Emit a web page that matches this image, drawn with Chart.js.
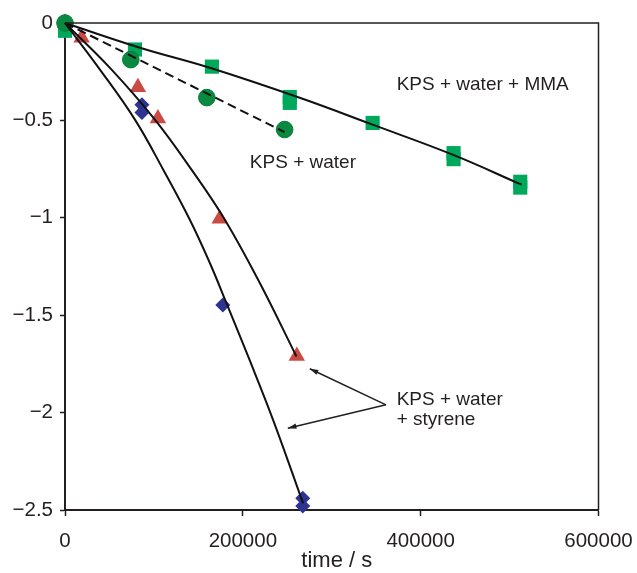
<!DOCTYPE html>
<html>
<head>
<meta charset="utf-8">
<script src="https://cdn.jsdelivr.net/npm/chart.js@4"></script>
<style>
  html, body { margin: 0; padding: 0; background: #fff; }
  #wrap { width: 637px; height: 573px; }
</style>
</head>
<body>
<div id="wrap"><canvas id="chart" width="637" height="573"></canvas></div>
<script>
// 測定値 (time / s, ln 値)
const mmaTime = [0, 78650, 165200, 252800, 252800, 346000, 437000, 437000, 512000, 512000];
const mmaVal = [-0.04, -0.136, -0.224, -0.38, -0.41, -0.513, -0.668, -0.699, -0.815, -0.845];

const waterTime = [0, 74000, 159500, 247000];
const waterVal = [0, -0.188, -0.383, -0.547];

const triTime = [0, 18700, 82000, 104500, 174000, 260700];
const triVal = [0, -0.076, -0.33, -0.49, -1.005, -1.71];

const diaTime = [86500, 86500, 177500, 267400, 267400];
const diaVal = [-0.42, -0.46, -1.447, -2.44, -2.48];

// フィット曲線
const mmaFitTime = [0, 84300, 162900, 264000, 346000, 436000, 513500];
const mmaFitVal = [0, -0.127, -0.230, -0.384, -0.522, -0.676, -0.83];

const waterFitTime = [0, 247000];
const waterFitVal = [0, -0.56];

const triFitTime = [0, 52400, 101100, 142300, 179800, 219100, 260300];
const triFitVal = [0, -0.239, -0.496, -0.753, -1.010, -1.335, -1.712];

const diaFitTime = [0, 39300, 78650, 110500, 140400, 162900, 181600, 206000, 234000, 267800];
const diaFitVal = [0, -0.239, -0.496, -0.753, -1.010, -1.232, -1.438, -1.712, -2.037, -2.466];

const xTicks = [0, 200000, 400000, 600000];
const yTicks = [0, -0.5, -1, -1.5, -2, -2.5];

const ink = '#231f20';
const font = 'Liberation Sans, Arial, sans-serif';

const pts = (xs, ys) => xs.map((x, i) => ({ x: x, y: ys[i] }));

// 注記テキスト
const notes = [
    { text: 'KPS + water + MMA', x: 373000, y: -0.342 },
    { text: 'KPS + water', x: 207900, y: -0.743 },
    { text: 'KPS + water', x: 373000, y: -1.96 },
    { text: '+ styrene', x: 373000, y: -2.063 }
];
const arrowFrom = { x: 361000, y: -1.96 };
const arrowTips = [{ x: 275300, y: -1.775 }, { x: 250600, y: -2.08 }];

const frame = {
    id: 'frame',
    afterDatasetsDraw(chart) {
        const { ctx, chartArea: a, scales } = chart;
        ctx.save();
        ctx.strokeStyle = ink;
        ctx.lineWidth = 1.5;
        ctx.beginPath();
        ctx.moveTo(a.left, a.top);
        ctx.lineTo(a.right, a.top);
        ctx.lineTo(a.right, a.bottom);
        ctx.stroke();

        ctx.fillStyle = ink;
        ctx.font = '19px ' + font;
        ctx.textBaseline = 'alphabetic';
        notes.forEach(n => {
            ctx.fillText(n.text, scales.x.getPixelForValue(n.x), scales.y.getPixelForValue(n.y));
        });

        // 軸タイトル
        ctx.font = '22px ' + font;
        ctx.textAlign = 'center';
        ctx.fillText('time / s', (a.left + a.right) / 2 + 5, 567);
        ctx.textAlign = 'left';

        // 矢印
        const fx = scales.x.getPixelForValue(arrowFrom.x);
        const fy = scales.y.getPixelForValue(arrowFrom.y);
        ctx.lineWidth = 1.5;
        arrowTips.forEach(t => {
            const tx = scales.x.getPixelForValue(t.x);
            const ty = scales.y.getPixelForValue(t.y);
            ctx.beginPath();
            ctx.moveTo(fx, fy);
            ctx.lineTo(tx, ty);
            ctx.stroke();
            const ang = Math.atan2(ty - fy, tx - fx);
            ctx.beginPath();
            ctx.moveTo(tx, ty);
            ctx.lineTo(tx - 9 * Math.cos(ang - 0.3), ty - 9 * Math.sin(ang - 0.3));
            ctx.lineTo(tx - 9 * Math.cos(ang + 0.3), ty - 9 * Math.sin(ang + 0.3));
            ctx.closePath();
            ctx.fill();
        });
        ctx.restore();
    }
};

const fitLine = (xs, ys, dash) => ({
    data: pts(xs, ys),
    showLine: true,
    borderColor: '#111',
    borderWidth: 2,
    borderDash: dash || [],
    pointRadius: 0,
    tension: 0.4,
    fill: false,
    clip: false,
    order: 1
});

new Chart(document.getElementById('chart'), {
    type: 'scatter',
    data: {
        datasets: [
            fitLine(mmaFitTime, mmaFitVal),
            fitLine(waterFitTime, waterFitVal, [9, 5]),
            fitLine(triFitTime, triFitVal),
            fitLine(diaFitTime, diaFitVal),
            {
                data: pts(waterTime, waterVal),
                pointStyle: 'circle',
                pointRadius: 8.3,
                backgroundColor: '#0a8a40',
                borderColor: '#067a36',
                borderWidth: 1,
                clip: false,
                order: 2
            },
            {
                data: pts(mmaTime, mmaVal),
                pointStyle: 'rect',
                pointRadius: 10,
                backgroundColor: '#00a85c',
                borderColor: '#00a85c',
                borderWidth: 0,
                clip: false,
                order: 3
            },
            {
                data: pts(triTime, triVal),
                pointStyle: 'triangle',
                pointRadius: 9.5,
                backgroundColor: '#cc4a44',
                borderColor: '#cc4a44',
                borderWidth: 0,
                clip: false,
                order: 4
            },
            {
                data: pts(diaTime, diaVal),
                pointStyle: 'rectRot',
                pointRadius: 7.5,
                backgroundColor: '#2e3392',
                borderColor: '#2e3392',
                borderWidth: 0,
                clip: false,
                order: 5
            }
        ]
    },
    options: {
        responsive: false,
        animation: false,
        layout: { padding: { top: 23, right: 38.5, left: 0, bottom: 0 } },
        plugins: { legend: { display: false }, tooltip: { enabled: false } },
        scales: {
            x: {
                type: 'linear',
                min: 0,
                max: 600000,
                afterBuildTicks: s => { s.ticks = xTicks.map(v => ({ value: v })); },
                afterFit: s => { s.height = 63; s.paddingRight = 0; s.paddingLeft = 0; },
                grid: { drawOnChartArea: false, tickLength: 6, color: ink, tickWidth: 1.5 },
                border: { color: ink, width: 2 },
                ticks: {
                    color: ink,
                    font: { family: font, size: 20.5 },
                    padding: 13,
                    maxRotation: 0,
                    callback: v => String(v)
                }
            },
            y: {
                type: 'linear',
                min: -2.5,
                max: 0,
                afterBuildTicks: s => { s.ticks = yTicks.map(v => ({ value: v })); },
                afterFit: s => { s.width = 65; s.paddingTop = 0; s.paddingBottom = 0; },
                grid: { drawOnChartArea: false, tickLength: 5, color: ink, tickWidth: 1.5 },
                border: { color: ink, width: 2 },
                ticks: {
                    color: ink,
                    font: { family: font, size: 20.5 },
                    padding: 7,
                    callback: v => v === 0 ? '0' : '\u2212' + Math.abs(v)
                }
            }
        }
    },
    plugins: [frame]
});
</script>
</body>
</html>
